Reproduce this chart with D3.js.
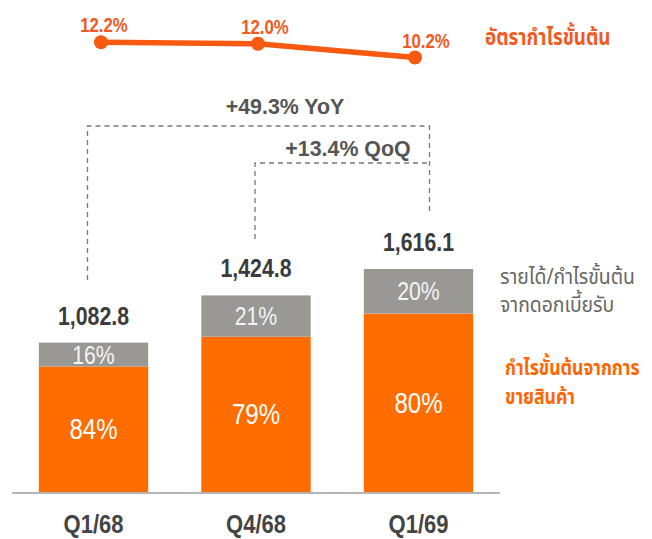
<!DOCTYPE html>
<html lang="th">
<head>
<meta charset="utf-8"/>
<title>Gross profit</title>
<script src="https://d3js.org/d3.v7.min.js"></script>
<style>
  body { margin: 0; background: #fff; }
  text { font-family: "Liberation Sans", "Noto Sans", sans-serif; }
  .th { font-family: "Noto Sans Thai", "Noto Sans", "DejaVu Sans", sans-serif; }
</style>
</head>
<body>
<script>
// data
var quarters = ["Q1/68", "Q4/68", "Q1/69"];
var totals = [1082.8, 1424.8, 1616.1];        // gross profit, MB
var salesShare = [84, 79, 80];                 // % from selling goods
var interestShare = [16, 21, 20];              // % from interest income
var margin = [12.2, 12.0, 10.2];               // gross margin %
var growthLabels = ["+49.3% YoY", "+13.4% QoQ"];

var w = 652, h = 539;
var orange = "#ff6d00", grey = "#9a9895", lineCol = "#f75a10";

var svg = d3.select("body").append("svg")
    .attr("width", w)
    .attr("height", h);

// condensed text helper (the original font is narrow)
function at(px, py, sx) {
    return "translate(" + px + "," + py + ") scale(" + sx + ",1)";
}

// scales
var x = d3.scaleBand().domain(quarters)
    .range([12, 500])
    .paddingInner(0.327)
    .paddingOuter(0.165);

var y = d3.scaleLinear().domain([0, d3.max(totals)]).range([492, 269]);

var xLine = d3.scalePoint().domain(quarters).range([101, 415]);
var yLine = d3.scaleLinear().domain([10.2, 12.2]).range([57.5, 42.3]);

var mid = function(q) { return x(q) + x.bandwidth() / 2; };

// build stacked rows
var rows = quarters.map(function(q, i) {
    return {q: q, total: totals[i], sales: totals[i] * salesShare[i] / 100,
            sPct: salesShare[i], iPct: interestShare[i]};
});

// bars - orange part
svg.selectAll("rect.sales")
    .data(rows).enter().append("rect")
    .attr("class", "sales")
    .attr("x", function(d) { return x(d.q); })
    .attr("width", x.bandwidth())
    .attr("y", function(d) { return y(d.sales); })
    .attr("height", function(d) { return y(0) - y(d.sales); })
    .style("fill", orange);

// bars - grey part
svg.selectAll("rect.interest")
    .data(rows).enter().append("rect")
    .attr("class", "interest")
    .attr("x", function(d) { return x(d.q); })
    .attr("width", x.bandwidth())
    .attr("y", function(d) { return y(d.total); })
    .attr("height", function(d) { return y(d.sales) - y(d.total); })
    .style("fill", grey);

// baseline
svg.append("line")
    .attr("x1", 12).attr("x2", 500)
    .attr("y1", y(0) + 1).attr("y2", y(0) + 1)
    .style("stroke", "#b5b5b5").style("stroke-width", 2);

// % labels inside bars
svg.selectAll("text.spct")
    .data(rows).enter().append("text")
    .attr("transform", function(d) { return at(mid(d.q), (y(d.sales) + y(0)) / 2 + 10, 0.83); })
    .attr("text-anchor", "middle")
    .style("font-size", "29px")
    .style("fill", "#fff")
    .text(function(d) { return d.sPct + "%"; });

svg.selectAll("text.ipct")
    .data(rows).enter().append("text")
    .attr("transform", function(d) { return at(mid(d.q), (y(d.sales) + y(d.total)) / 2 + 9, 0.85); })
    .attr("text-anchor", "middle")
    .style("font-size", "25px")
    .style("fill", "#f4f4f4")
    .text(function(d) { return d.iPct + "%"; });

// totals on top
svg.selectAll("text.total")
    .data(rows).enter().append("text")
    .attr("transform", function(d) { return at(mid(d.q), y(d.total) - 18, 0.82); })
    .attr("text-anchor", "middle")
    .style("font-size", "26px")
    .style("font-weight", "bold")
    .style("fill", "#3b3b3b")
    .text(function(d) { return d3.format(",.1f")(d.total); });

// category labels
svg.selectAll("text.cat")
    .data(quarters).enter().append("text")
    .attr("transform", function(d) { return at(mid(d), 533, 0.88); })
    .attr("text-anchor", "middle")
    .style("font-size", "25px")
    .style("font-weight", "bold")
    .style("fill", "#444")
    .text(function(d) { return d; });

// margin line
svg.append("path")
    .datum(margin)
    .attr("d", d3.line()
        .x(function(d, i) { return xLine(quarters[i]); })
        .y(function(d) { return yLine(d); }))
    .style("fill", "none")
    .style("stroke", lineCol)
    .style("stroke-width", 5.5);

svg.selectAll("circle.pt")
    .data(margin).enter().append("circle")
    .attr("cx", function(d, i) { return xLine(quarters[i]); })
    .attr("cy", function(d) { return yLine(d); })
    .attr("r", 7)
    .style("fill", lineCol);

svg.selectAll("text.mg")
    .data(margin).enter().append("text")
    .attr("transform", function(d, i) { return at(xLine(quarters[i]) + 3 + 4 * i, yLine(d) - 10, 0.8); })
    .attr("text-anchor", "middle")
    .style("font-size", "21px")
    .style("font-weight", "bold")
    .style("fill", "#f25a22")
    .text(function(d) { return d3.format(".1f")(d) + "%"; });

// growth brackets (dashed)
function bracket(x1, x2, top, y1, y2) {
    svg.append("path")
        .attr("d", "M" + x1 + "," + y1 + "V" + top + "H" + x2 + "V" + y2)
        .style("fill", "none")
        .style("stroke", "#777")
        .style("stroke-width", 1.3)
        .style("stroke-dasharray", "5,4");
}
bracket(mid(quarters[0]) - 6, mid(quarters[2]) + 11, 126, 280, 211);
bracket(mid(quarters[1]) - 1, mid(quarters[2]) + 11, 163, 239, 163);

svg.append("text")
    .attr("transform", at(285, 114, 0.93))
    .attr("text-anchor", "middle")
    .style("font-size", "23px").style("font-weight", "bold").style("fill", "#555")
    .text(growthLabels[0]);
svg.append("text")
    .attr("transform", at(348, 156, 0.93))
    .attr("text-anchor", "middle")
    .style("font-size", "23px").style("font-weight", "bold").style("fill", "#555")
    .text(growthLabels[1]);

// legend texts
svg.append("text").attr("class", "th")
    .attr("transform", at(485, 45, 0.82))
    .style("font-size", "23px").style("font-weight", "bold").style("fill", "#f25a22")
    .text("อัตรากำไรขั้นต้น");

var g1 = svg.append("text").attr("class", "th")
    .attr("transform", at(500, 284, 0.88))
    .style("font-size", "22px").style("fill", "#666");
g1.append("tspan").attr("x", 0).text("รายได้/กำไรขั้นต้น");
g1.append("tspan").attr("x", 0).attr("dy", 28).text("จากดอกเบี้ยรับ");

var g2 = svg.append("text").attr("class", "th")
    .attr("transform", at(505, 375, 0.8))
    .style("font-size", "22px").style("font-weight", "bold").style("fill", "#ff6600");
g2.append("tspan").attr("x", 0).text("กำไรขั้นต้นจากการ");
g2.append("tspan").attr("x", 0).attr("dy", 29).text("ขายสินค้า");
</script>
</body>
</html>
